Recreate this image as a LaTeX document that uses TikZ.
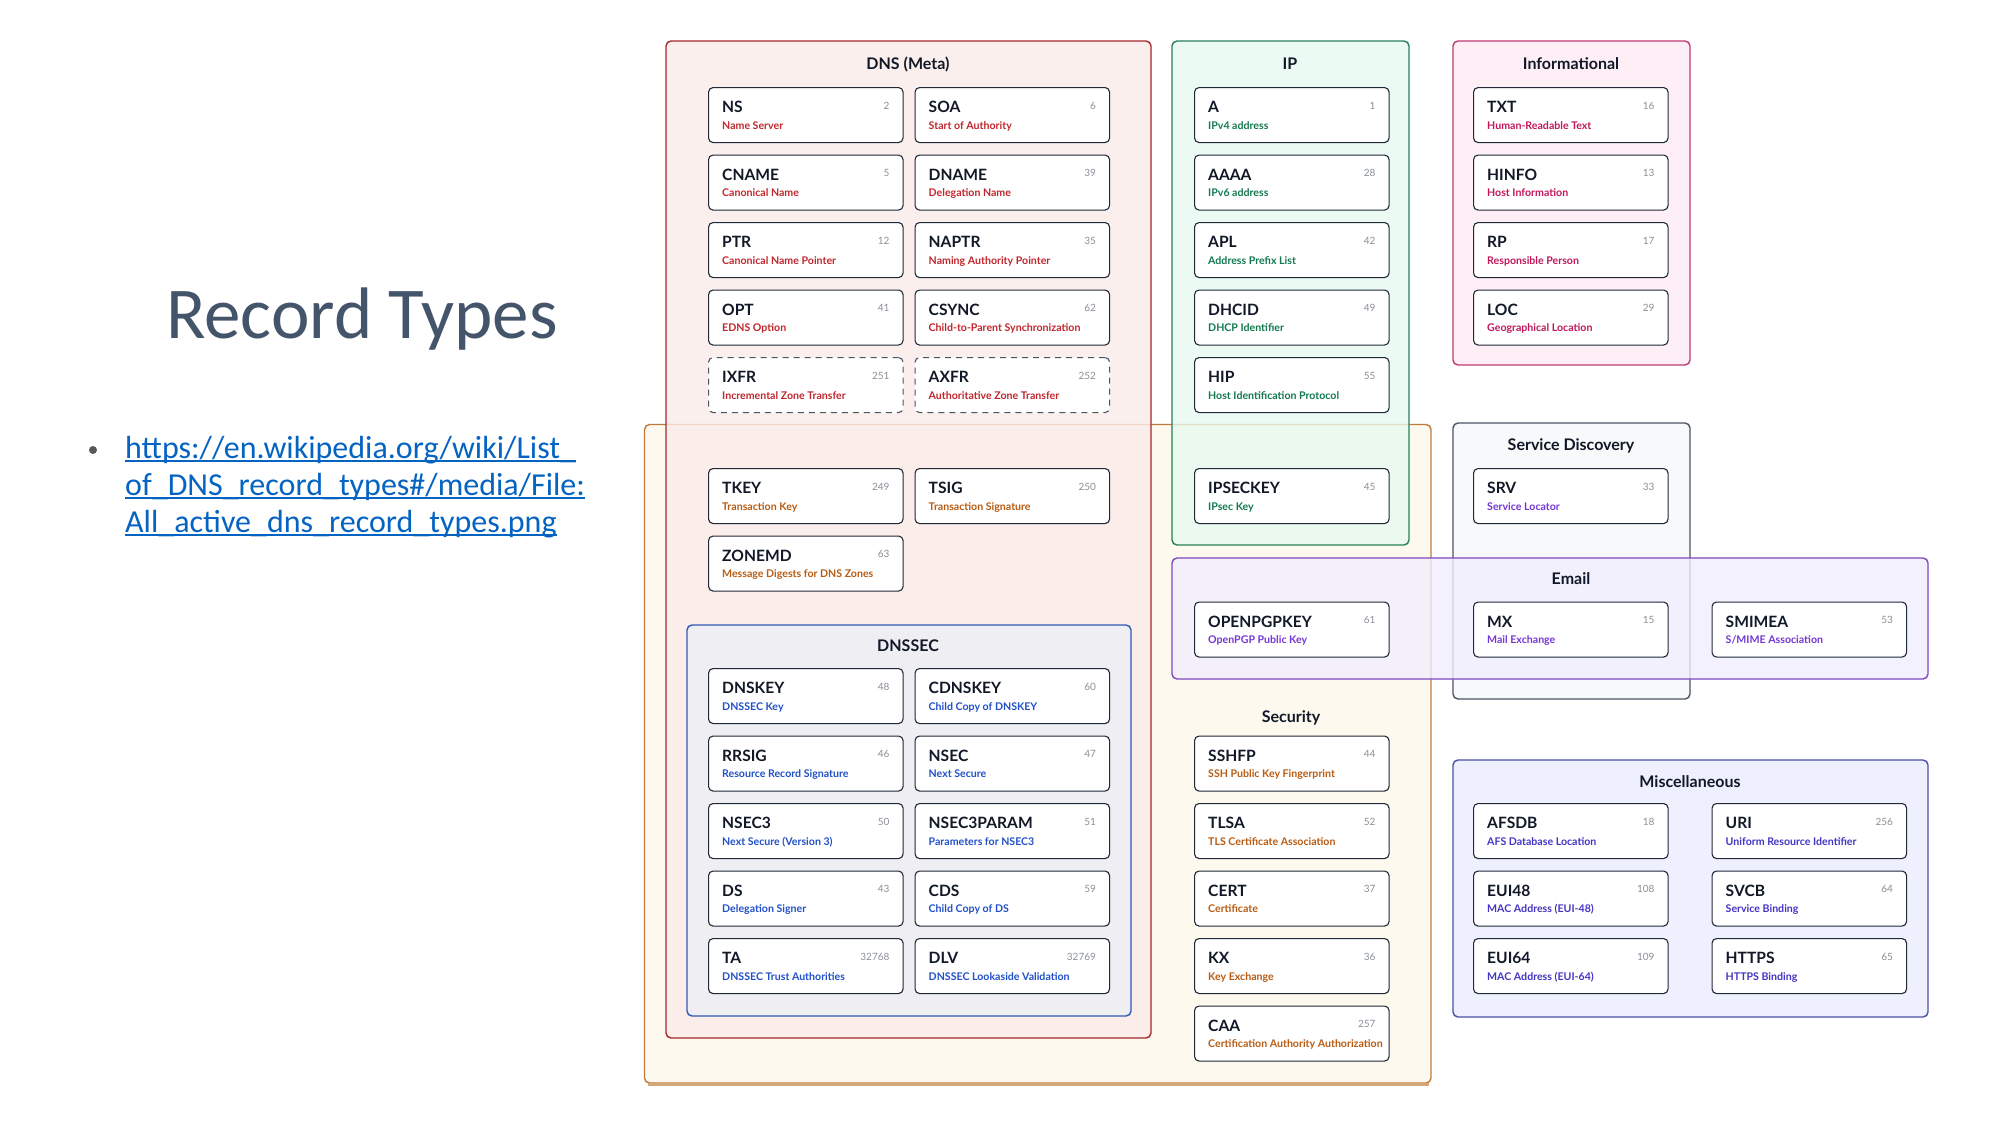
\documentclass[tikz,border=0pt]{standalone}
\usepackage{fontspec}
\setmainfont{Lato}
\newfontfamily\slidefont{Carlito}

% group frames
\definecolor{dnsB}{HTML}{A3282B}\definecolor{dnsF}{HTML}{FBEBEA}\definecolor{dnsT}{HTML}{C1272D}
\definecolor{secB}{HTML}{C07A3C}\definecolor{secF}{HTML}{FEF8EA}\definecolor{secT}{HTML}{B85C14}
\definecolor{secS}{HTML}{D3A77A}
\definecolor{ipB}{HTML}{25805A}\definecolor{ipF}{HTML}{E7F9EF}\definecolor{ipT}{HTML}{137A4F}
\definecolor{infB}{HTML}{C03A72}\definecolor{infF}{HTML}{FDECF3}\definecolor{infT}{HTML}{C2185B}
\definecolor{sdB}{HTML}{4B5563}\definecolor{sdF}{HTML}{F6F8F9}
\definecolor{emB}{HTML}{8045C0}\definecolor{emF}{HTML}{F1EEFD}\definecolor{emT}{HTML}{7437D6}
\definecolor{miscB}{HTML}{4A4FA8}\definecolor{miscF}{HTML}{EAEEFD}\definecolor{miscT}{HTML}{4335C4}
\definecolor{dsecB}{HTML}{2F5BB5}\definecolor{dsecF}{HTML}{EBEFF6}\definecolor{dsecT}{HTML}{2150C8}
% cards and slide text
\definecolor{ink}{HTML}{111827}
\definecolor{cardline}{HTML}{1F2937}
\definecolor{numgray}{HTML}{8A8F98}
\definecolor{slate}{HTML}{44546A}
\definecolor{link}{HTML}{0563C1}
\definecolor{bulletgray}{HTML}{595959}

\tikzset{
  grp/.style={rounded corners=5pt, line width=1.4pt, fill opacity=0.8},
  card/.style={draw=cardline, fill=white, rounded corners=4.5pt, line width=1.1pt,
    minimum width=194.5pt, minimum height=55pt, inner sep=0pt, anchor=north west},
  rtype/.style={font=\fontsize{15.6}{16}\selectfont\bfseries, text=ink, inner sep=0pt, anchor=base west},
  rdesc/.style={font=\fontsize{10.6}{11}\selectfont\bfseries, inner sep=0pt, anchor=base west},
  rnum/.style={font=\fontsize{10}{10}\selectfont, text=numgray, inner sep=0pt, anchor=base east},
  gtitle/.style={font=\fontsize{16}{16}\selectfont\bfseries, text=ink, inner sep=0pt, anchor=base},
  urltext/.style={font=\slidefont\fontsize{32}{32}\selectfont, text=link, inner sep=0pt, anchor=base west},
  urlline/.style={draw=link, line width=1.6pt},
  gone/.style={dashed, dash pattern=on 6pt off 5pt, draw=cardline!80},
}

% one record card: [extra style] name, x, y (top), type, code, description, colour
\newcommand\rec[8][]{%
  \node[card,#1] (#2) at (#3,#4) {};
  \node[rtype] (#2-type) at ([xshift=14pt,yshift=-25.5pt]#2.north west) {#5};
  \node[rnum] (#2-code) at ([xshift=-14pt,yshift=-22pt]#2.north east) {#6};
  \node[rdesc,text=#8] (#2-desc) at ([xshift=14pt,yshift=-42pt]#2.north west) {#7};
}

\begin{document}
\begin{tikzpicture}[x=1pt,y=-1pt]
\useasboundingbox[fill=white] (0,0) rectangle (2000,1125);

% ---- slide title and link ----
\node[font=\slidefont\fontsize{73}{73}\selectfont, text=slate, inner sep=0pt, anchor=base west]
  (title) at (166,338) {Record Types};
\node[circle, fill=bulletgray, minimum size=8pt, inner sep=0pt] (bullet) at (93,450) {};
\node[urltext] (url1) at (125,458) {https://en.wikipedia.org/wiki/List\_};
\node[urltext] (url2) at (125,495) {of\_DNS\_record\_types\#/media/File:};
\node[urltext] (url3) at (125,532) {All\_active\_dns\_record\_types.png};
\foreach \u in {url1,url2,url3}
  \draw[urlline] ([yshift=-3pt]\u.base west) -- ([yshift=-3pt]\u.base east);

% ---- group frames ----
\draw[grp, draw=secB, fill=secF] (644.5,424.5) rectangle (1431,1083);
\draw[secS, line width=2.6pt] (648,1084.5) -- (1429,1084.5);
\draw[grp, draw=dnsB, fill=dnsF] (666,41) rectangle (1151,1038);
\draw[grp, draw=ipB, fill=ipF] (1172,41) rectangle (1409,545);
\draw[grp, draw=infB, fill=infF] (1453,41) rectangle (1690,365);
\draw[grp, draw=sdB, fill=sdF] (1453,423) rectangle (1690,699);
\draw[grp, draw=emB, fill=emF] (1172,558) rectangle (1928,679);
\draw[grp, draw=miscB, fill=miscF] (1453,760) rectangle (1928,1017);
\draw[grp, draw=dsecB, fill=dsecF] (687,625) rectangle (1131,1016);

% ---- group titles ----
\node[gtitle] (t-dns)  at (908,69)   {DNS (Meta)};
\node[gtitle] (t-ip)   at (1290,69)  {IP};
\node[gtitle] (t-inf)  at (1571,69)  {Informational};
\node[gtitle] (t-sd)   at (1571,450) {Service Discovery};
\node[gtitle] (t-em)   at (1571,584) {Email};
\node[gtitle] (t-sec)  at (1291,722) {Security};
\node[gtitle] (t-dsec) at (908,651)  {DNSSEC};
\node[gtitle] (t-misc) at (1690,787) {Miscellaneous};

% ---- DNS (Meta) ----
\rec{ns}{708}{87}{NS}{2}{Name Server}{dnsT}
\rec{soa}{914.5}{87}{SOA}{6}{Start of Authority}{dnsT}
\rec{cname}{708}{154.5}{CNAME}{5}{Canonical Name}{dnsT}
\rec{dname}{914.5}{154.5}{DNAME}{39}{Delegation Name}{dnsT}
\rec{ptr}{708}{222}{PTR}{12}{Canonical Name Pointer}{dnsT}
\rec{naptr}{914.5}{222}{NAPTR}{35}{Naming Authority Pointer}{dnsT}
\rec{opt}{708}{289.5}{OPT}{41}{EDNS Option}{dnsT}
\rec{csync}{914.5}{289.5}{CSYNC}{62}{Child-to-Parent Synchronization}{dnsT}
\rec[gone]{ixfr}{708}{357}{IXFR}{251}{Incremental Zone Transfer}{dnsT}
\rec[gone]{axfr}{914.5}{357}{AXFR}{252}{Authoritative Zone Transfer}{dnsT}

% ---- transaction security inside DNS ----
\rec{tkey}{708}{468}{TKEY}{249}{Transaction Key}{secT}
\rec{tsig}{914.5}{468}{TSIG}{250}{Transaction Signature}{secT}
\rec{zonemd}{708}{535.5}{ZONEMD}{63}{Message Digests for DNS Zones}{secT}

% ---- DNSSEC ----
\rec{dnskey}{708}{668}{DNSKEY}{48}{DNSSEC Key}{dsecT}
\rec{cdnskey}{914.5}{668}{CDNSKEY}{60}{Child Copy of DNSKEY}{dsecT}
\rec{rrsig}{708}{735.5}{RRSIG}{46}{Resource Record Signature}{dsecT}
\rec{nsec}{914.5}{735.5}{NSEC}{47}{Next Secure}{dsecT}
\rec{nsecthree}{708}{803}{NSEC3}{50}{Next Secure (Version 3)}{dsecT}
\rec{nsecparam}{914.5}{803}{NSEC3PARAM}{51}{Parameters for NSEC3}{dsecT}
\rec{ds}{708}{870.5}{DS}{43}{Delegation Signer}{dsecT}
\rec{cds}{914.5}{870.5}{CDS}{59}{Child Copy of DS}{dsecT}
\rec{ta}{708}{938}{TA}{32768}{DNSSEC Trust Authorities}{dsecT}
\rec{dlv}{914.5}{938}{DLV}{32769}{DNSSEC Lookaside Validation}{dsecT}

% ---- IP ----
\rec{a}{1194}{87}{A}{1}{IPv4 address}{ipT}
\rec{aaaa}{1194}{154.5}{AAAA}{28}{IPv6 address}{ipT}
\rec{apl}{1194}{222}{APL}{42}{Address Prefix List}{ipT}
\rec{dhcid}{1194}{289.5}{DHCID}{49}{DHCP Identifier}{ipT}
\rec{hip}{1194}{357}{HIP}{55}{Host Identification Protocol}{ipT}
\rec{ipseckey}{1194}{468}{IPSECKEY}{45}{IPsec Key}{ipT}

% ---- Informational ----
\rec{txt}{1473}{87}{TXT}{16}{Human-Readable Text}{infT}
\rec{hinfo}{1473}{154.5}{HINFO}{13}{Host Information}{infT}
\rec{rp}{1473}{222}{RP}{17}{Responsible Person}{infT}
\rec{loc}{1473}{289.5}{LOC}{29}{Geographical Location}{infT}

% ---- Service Discovery ----
\rec{srv}{1473}{468}{SRV}{33}{Service Locator}{emT}

% ---- Email ----
\rec{openpgpkey}{1194}{601.5}{OPENPGPKEY}{61}{OpenPGP Public Key}{emT}
\rec{mx}{1473}{601.5}{MX}{15}{Mail Exchange}{emT}
\rec{smimea}{1711.5}{601.5}{SMIMEA}{53}{S/MIME Association}{emT}

% ---- Security ----
\rec{sshfp}{1194}{735.5}{SSHFP}{44}{SSH Public Key Fingerprint}{secT}
\rec{tlsa}{1194}{803}{TLSA}{52}{TLS Certificate Association}{secT}
\rec{cert}{1194}{870.5}{CERT}{37}{Certificate}{secT}
\rec{kx}{1194}{938}{KX}{36}{Key Exchange}{secT}
\rec{caa}{1194}{1005.5}{CAA}{257}{Certification Authority Authorization}{secT}

% ---- Miscellaneous ----
\rec{afsdb}{1473}{803}{AFSDB}{18}{AFS Database Location}{miscT}
\rec{uri}{1711.5}{803}{URI}{256}{Uniform Resource Identifier}{miscT}
\rec{euifortyeight}{1473}{870.5}{EUI48}{108}{MAC Address (EUI-48)}{miscT}
\rec{svcb}{1711.5}{870.5}{SVCB}{64}{Service Binding}{miscT}
\rec{euisixtyfour}{1473}{938}{EUI64}{109}{MAC Address (EUI-64)}{miscT}
\rec{https}{1711.5}{938}{HTTPS}{65}{HTTPS Binding}{miscT}
\end{tikzpicture}
\end{document}
